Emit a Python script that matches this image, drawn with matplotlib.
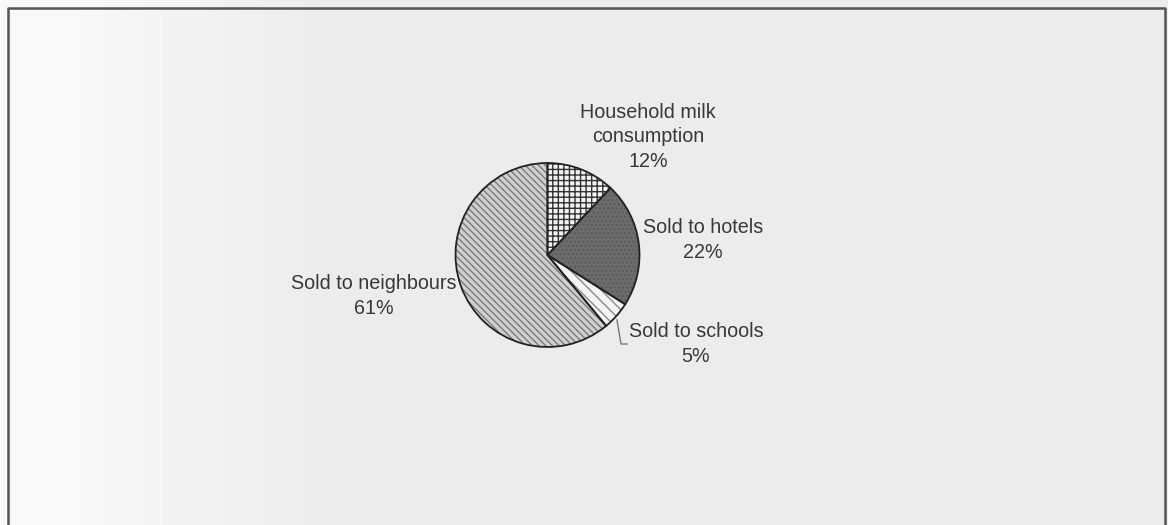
import numpy as np
import matplotlib
import matplotlib.pyplot as plt
from matplotlib.patches import Wedge
matplotlib.rcParams['font.family'] = ['Liberation Sans', 'DejaVu Sans']

labels = ['Household milk\nconsumption', 'Sold to hotels', 'Sold to schools', 'Sold to neighbours']
shares = [12, 22, 5, 61]
faces = ['#f2f2f2', '#6c6c6c', '#f4f4f4', '#d0d0d0']
hatches = ['+++', '....', '\\\\\\', '\\\\\\\\\\']
hatch_cols = ['#333333', '#5a5a5a', '#8a8a8a', '#7a7a7a']
# label anchor points in pixels (x, y from top)
label_pos = [(648, 137), (703, 240), (696, 344), (374, 296)]

W, H = 1168, 525
fig = plt.figure(figsize=(W / 100, H / 100), dpi=100)
ax = fig.add_axes([0, 0, 1, 1])
ax.set_xlim(0, W)
ax.set_ylim(0, H)
ax.axis('off')

# scanned-paper background: whiter on the left
xs = np.linspace(0, 1, W)
shade = 0.925 + 0.05 * np.clip((0.28 - xs) / 0.22, 0, 1)
bg = np.tile(shade, (H, 1))
ax.imshow(bg, cmap='gray', vmin=0, vmax=1, extent=[0, W, 0, H], aspect='auto', zorder=0)

# frame
ax.plot([8, 8, 1165, 1165], [-5, H - 8, H - 8, -5], color='#555555', lw=1.8, zorder=1)

cx, cy, r = 547.5, H - 255, 92
wedges, _ = ax.pie(shares, startangle=90, counterclock=False, center=(cx, cy), radius=r,
                   colors=faces, wedgeprops=dict(linewidth=0), frame=True)
ax.set_xlim(0, W)
ax.set_ylim(0, H)
ax.set_aspect('equal')
ax.axis('off')
for w, h, hc in zip(wedges, hatches, hatch_cols):
    w.set_zorder(2)
    hw = Wedge(w.center, w.r, w.theta1, w.theta2, facecolor='none', edgecolor=hc,
               hatch=h, linewidth=0, zorder=3)
    ax.add_patch(hw)
    ow = Wedge(w.center, w.r, w.theta1, w.theta2, facecolor='none', edgecolor='#222222',
               linewidth=1.3, zorder=4)
    ax.add_patch(ow)

for lab, s, (px, py) in zip(labels, shares, label_pos):
    ax.text(px, H - py, f'{lab}\n{s}%', ha='center', va='center', fontsize=14.2,
            color='#383838', linespacing=1.38, zorder=5)

# leader line for the small slice
ax.plot([617, 621, 627], [H - 320, H - 344, H - 344], color='#777777', lw=1, zorder=5)

fig.savefig('out.png', dpi=100)
